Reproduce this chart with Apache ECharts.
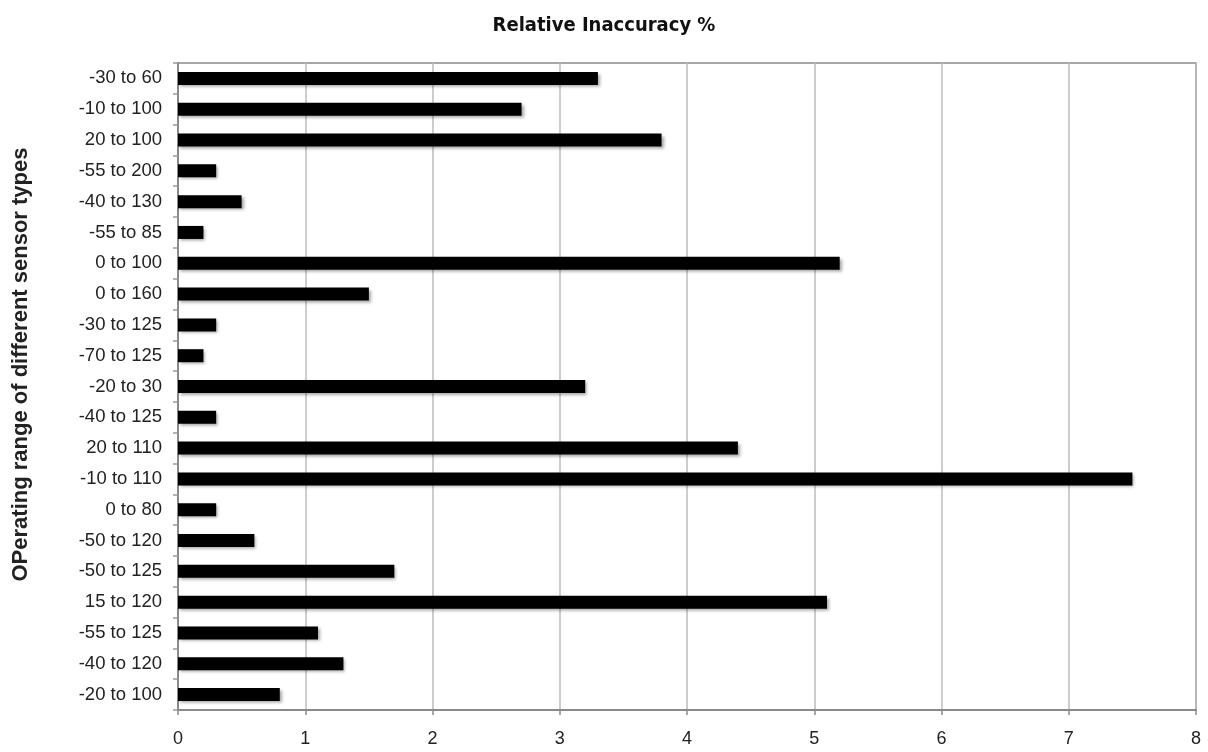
<!DOCTYPE html>
<html>
<head>
<meta charset="utf-8">
<script src="https://cdn.jsdelivr.net/npm/echarts@6/dist/echarts.min.js"></script>
<style>
  html, body { margin: 0; padding: 0; background: #fff; }
  #chart { width: 1208px; height: 752px; }
</style>
</head>
<body>
<div id="chart"></div>
<script>
const categories = [
  "-30 to 60", "-10 to 100", "20 to 100", "-55 to 200", "-40 to 130",
  "-55 to 85", "0 to 100", "0 to 160", "-30 to 125", "-70 to 125",
  "-20 to 30", "-40 to 125", "20 to 110", "-10 to 110", "0 to 80",
  "-50 to 120", "-50 to 125", "15 to 120", "-55 to 125", "-40 to 120",
  "-20 to 100"
];
const inaccuracy = [
  3.3, 2.7, 3.8, 0.3, 0.5,
  0.2, 5.2, 1.5, 0.3, 0.2,
  3.2, 0.3, 4.4, 7.5, 0.3,
  0.6, 1.7, 5.1, 1.1, 1.3,
  0.8
];
const titleText = "Relative Inaccuracy %";
const yAxisTitle = "OPerating range of different sensor types";

const chart = echarts.init(document.getElementById('chart'));
chart.setOption({
  animation: false,
  backgroundColor: '#ffffff',
  title: {
    text: titleText,
    left: 'center',
    top: 11,
    textStyle: {
      fontFamily: '"Liberation Sans Narrow", "DejaVu Sans Condensed", sans-serif',
      fontWeight: 'bold',
      fontSize: 20,
      color: '#111'
    }
  },
  grid: {
    left: 178, right: 12, top: 63, bottom: 42,
    show: true,
    borderColor: '#8a8a8a',
    borderWidth: 1.5
  },
  xAxis: {
    type: 'value',
    min: 0, max: 8, interval: 1,
    axisLine: { show: true, lineStyle: { color: '#8a8a8a', width: 2 } },
    axisTick: { show: true, length: 5, lineStyle: { color: '#8a8a8a', width: 1.5 } },
    splitLine: { show: true, lineStyle: { color: '#bdbdbd', width: 1.5 } },
    axisLabel: {
      margin: 20,
      fontFamily: '"Liberation Sans", Arial, sans-serif',
      fontSize: 18,
      color: '#222'
    }
  },
  yAxis: {
    type: 'category',
    data: categories,
    inverse: true,
    name: yAxisTitle,
    nameLocation: 'middle',
    nameRotate: 90,
    nameGap: 146,
    nameTextStyle: {
      fontFamily: '"Liberation Sans", Arial, sans-serif',
      fontWeight: 'bold',
      fontSize: 22,
      color: '#222',
      padding: [0, 0, 0, 44]
    },
    axisLine: { show: true, lineStyle: { color: '#8a8a8a', width: 2 } },
    axisTick: { show: true, length: 5, lineStyle: { color: '#9a9a9a', width: 1.5 } },
    axisLabel: {
      margin: 16,
      fontFamily: '"Liberation Sans", Arial, sans-serif',
      fontSize: 18.5,
      color: '#222'
    }
  },
  series: [{
    type: 'bar',
    data: inaccuracy,
    barWidth: 13,
    itemStyle: {
      color: '#000',
      shadowColor: 'rgba(0,0,0,0.35)',
      shadowBlur: 3,
      shadowOffsetX: 2,
      shadowOffsetY: 2
    }
  }]
});
</script>
</body>
</html>
